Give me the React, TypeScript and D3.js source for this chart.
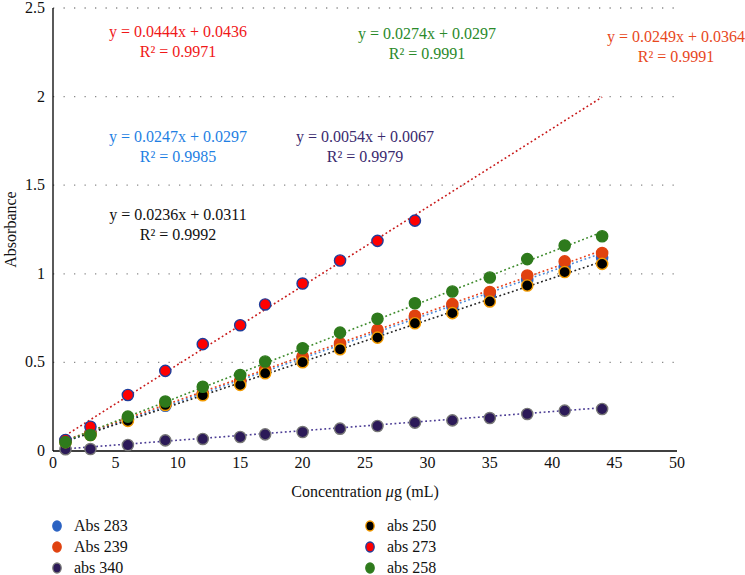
import * as d3 from "d3";

// Concentration values (µg/mL)
const conc = [1, 3, 6, 9, 12, 15, 17, 20, 23, 26, 29, 32, 35, 38, 41, 44];
const concShort = [1, 3, 6, 9, 12, 15, 17, 20, 23, 26, 29];

const abs283 = [0.055, 0.1, 0.175, 0.255, 0.32, 0.39, 0.455, 0.525, 0.6, 0.67, 0.75, 0.815, 0.88, 0.965, 1.04, 1.09];
const abs239 = [0.06, 0.1, 0.18, 0.265, 0.325, 0.395, 0.46, 0.533, 0.608, 0.684, 0.763, 0.829, 0.897, 0.99, 1.07, 1.117];
const abs340 = [0.01, 0.011, 0.034, 0.06, 0.068, 0.079, 0.094, 0.107, 0.126, 0.141, 0.16, 0.173, 0.186, 0.209, 0.228, 0.237];
const abs250 = [0.05, 0.09, 0.17, 0.26, 0.315, 0.373, 0.439, 0.501, 0.574, 0.64, 0.721, 0.778, 0.844, 0.934, 1.01, 1.056];
const abs273 = [0.062, 0.137, 0.316, 0.452, 0.603, 0.71, 0.827, 0.945, 1.075, 1.186, 1.3];
const abs258 = [0.05, 0.09, 0.194, 0.279, 0.363, 0.429, 0.505, 0.58, 0.668, 0.746, 0.834, 0.9, 0.979, 1.083, 1.16, 1.212];

const xTicks = [0, 5, 10, 15, 20, 25, 30, 35, 40, 45, 50];
const yTicks = [0, 0.5, 1, 1.5, 2, 2.5];

interface Series {
  name: string;
  xs: number[];
  ys: number[];
  fill: string;
  stroke: string;
  line: string;
  slope: number;
  icpt: number;
  r2: string;
  labelX: number;
  labelY: number;
  labelColor: string;
}

const series: Series[] = [
  { name: "Abs 283", xs: conc, ys: abs283, fill: "#2a62c2", stroke: "#2a62c2", line: "#4a88d8", slope: 0.0247, icpt: 0.0297, r2: "0.9985", labelX: 178, labelY: 142, labelColor: "#1f7fe3" },
  { name: "Abs 239", xs: conc, ys: abs239, fill: "#e0420f", stroke: "#e0420f", line: "#e8401a", slope: 0.0249, icpt: 0.0364, r2: "0.9991", labelX: 676, labelY: 42, labelColor: "#e8481c" },
  { name: "abs 340", xs: conc, ys: abs340, fill: "#2c1a58", stroke: "#777777", line: "#4b3c94", slope: 0.0054, icpt: 0.0067, r2: "0.9979", labelX: 365, labelY: 142, labelColor: "#3a2a6e" },
  { name: "abs 250", xs: conc, ys: abs250, fill: "#000000", stroke: "#f29a00", line: "#222222", slope: 0.0236, icpt: 0.0311, r2: "0.9992", labelX: 178, labelY: 220, labelColor: "#111111" },
  { name: "abs 273", xs: concShort, ys: abs273, fill: "#ff0000", stroke: "#203c9a", line: "#c81818", slope: 0.0444, icpt: 0.0436, r2: "0.9971", labelX: 178, labelY: 37, labelColor: "#f01818" },
  { name: "abs 258", xs: conc, ys: abs258, fill: "#2e7a1c", stroke: "#2e7a1c", line: "#3c8a2a", slope: 0.0274, icpt: 0.0297, r2: "0.9991", labelX: 427, labelY: 39, labelColor: "#2a8a2a" },
];

const legendOrder = [
  { s: 0, col: 0, row: 0 }, { s: 1, col: 0, row: 1 }, { s: 2, col: 0, row: 2 },
  { s: 3, col: 1, row: 0 }, { s: 4, col: 1, row: 1 }, { s: 5, col: 1, row: 2 },
];

const W = 745;
const H = 575;
const FONT = "Liberation Serif";

export default function App() {
  const x = d3.scaleLinear().domain([0, 50]).range([53, 677]);
  const y = d3.scaleLinear().domain([0, 2.5]).range([451, 8]);
  const fmt = d3.format("");
  const trendX = [1, 44];

  return (
    <svg width={W} height={H} style={{ position: "absolute", left: 0, top: 0 }}>
      <rect width={W} height={H} fill="white" />

      {/* dotted horizontal grid */}
      {yTicks.filter(d => d > 0).map(d => (
        <line key={`g${d}`} x1={x(0)} x2={x(50)} y1={y(d)} y2={y(d)}
          stroke="#8a8a8a" strokeWidth={1.3} strokeDasharray="1.3,9.2" />
      ))}

      {/* axes */}
      <line x1={x(0)} x2={x(0)} y1={y(2.5)} y2={y(0)} stroke="#000" strokeWidth={1.3} />
      <line x1={x(0)} x2={x(50)} y1={y(0)} y2={y(0)} stroke="#000" strokeWidth={1.3} />

      {xTicks.map(d => (
        <text key={`x${d}`} x={x(d)} y={y(0) + 17} textAnchor="middle"
          fontFamily={FONT} fontSize={16} fill="#111">{fmt(d)}</text>
      ))}
      {yTicks.map(d => (
        <text key={`y${d}`} x={x(0) - 8} y={y(d) + 5} textAnchor="end"
          fontFamily={FONT} fontSize={16} fill="#111">{fmt(d)}</text>
      ))}

      <text x={365} y={497} textAnchor="middle" fontFamily={FONT} fontSize={16} fill="#111">
        Concentration <tspan fontStyle="italic">μ</tspan>g (mL)
      </text>
      <text transform={`translate(16,${y(1.25)}) rotate(-90)`} textAnchor="middle"
        fontFamily={FONT} fontSize={16} fill="#111">Absorbance</text>

      {/* trendlines */}
      {series.map(s => (
        <line key={`t${s.name}`}
          x1={x(trendX[0])} y1={y(s.slope * trendX[0] + s.icpt)}
          x2={x(trendX[1])} y2={y(s.slope * trendX[1] + s.icpt)}
          stroke={s.line} strokeWidth={1.6} strokeDasharray="1.8,2.6" />
      ))}

      {/* points */}
      {series.map(s => (
        <g key={`p${s.name}`}>
          {s.xs.map((c, i) => (
            <circle key={i} cx={x(c)} cy={y(s.ys[i])} r={5.6}
              fill={s.fill} stroke={s.stroke} strokeWidth={1.4} />
          ))}
        </g>
      ))}

      {/* equation labels */}
      {series.map(s => (
        <text key={`e${s.name}`} textAnchor="middle" fontFamily={FONT} fontSize={16} fill={s.labelColor}>
          <tspan x={s.labelX} y={s.labelY}>{`y = ${s.slope.toFixed(4)}x + ${s.icpt.toFixed(4)}`}</tspan>
          <tspan x={s.labelX} y={s.labelY + 20}>{`R² = ${s.r2}`}</tspan>
        </text>
      ))}

      {/* legend */}
      {legendOrder.map(l => {
        const s = series[l.s];
        const cx = l.col === 0 ? 57 : 370;
        const cy = 526 + l.row * 21;
        return (
          <g key={`l${s.name}`}>
            <ellipse cx={cx} cy={cy} rx={4.2} ry={5} fill={s.fill} stroke={s.stroke} strokeWidth={1.3} />
            <text x={cx + 17} y={cy + 5} fontFamily={FONT} fontSize={16} fill="#111">{s.name}</text>
          </g>
        );
      })}
    </svg>
  );
}
